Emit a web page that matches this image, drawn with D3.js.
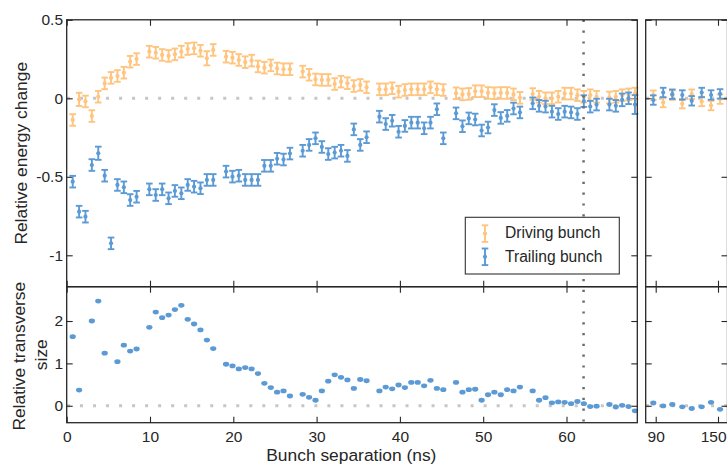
<!DOCTYPE html>
<html><head><meta charset="utf-8">
<script src="https://cdn.jsdelivr.net/npm/d3@7"></script>
<style>
body{margin:0;background:#fff}
svg{display:block}
text{font-family:"Liberation Sans",Arial,Helvetica,sans-serif;fill:#262626}
</style>
</head><body>
<svg id="chart" width="727" height="465"></svg>
<script>
// ---------- data ----------
const sepEnergy = [0.72,1.49,2.25,3.02,3.79,4.56,5.32,6.09,6.86,7.62,8.39,
  9.92,10.69,11.46,12.23,12.99,13.76,14.53,15.29,16.06,16.83,17.59,
  19.13,19.90,20.66,21.43,22.20,22.96,23.73,24.50,25.26,26.03,26.80,
  28.33,29.10,29.87,30.63,31.40,32.17,32.93,33.70,34.47,35.24,36.00,
  37.54,38.30,39.07,39.84,40.60,41.37,42.14,42.91,43.67,44.44,45.21,
  46.74,47.51,48.27,49.04,49.81,50.58,51.34,52.11,52.88,53.64,54.41,
  55.94,56.71,57.48,58.25,59.01,59.78,60.55,61.31,62.08,62.85,63.61,
  65.15,65.92,66.68,67.45,68.22];
const drivingEnergy = [-0.138,-0.007,-0.02,-0.113,0.01,0.095,0.13,0.142,0.163,0.233,0.25,
  0.297,0.29,0.276,0.27,0.28,0.297,0.314,0.318,0.303,0.255,0.308,
  0.265,0.259,0.244,0.23,0.24,0.203,0.195,0.21,0.19,0.185,0.185,
  0.17,0.15,0.12,0.117,0.117,0.091,0.106,0.096,0.078,0.085,0.07,
  0.057,0.057,0.064,0.042,0.053,0.057,0.057,0.057,0.07,0.057,0.053,
  0.032,0.025,0.028,0.045,0.045,0.034,0.032,0.034,0.034,0.025,0.003,
  0.027,0.01,0.0,0.0,0.01,0.03,0.03,0.02,0.01,0.02,0.01,
  0.005,0.01,0.02,0.025,0.03];
const trailingEnergy = [-0.531,-0.722,-0.754,-0.425,-0.35,-0.493,-0.924,-0.552,-0.567,-0.648,-0.627,
  -0.58,-0.616,-0.58,-0.637,-0.59,-0.605,-0.552,-0.563,-0.573,-0.52,-0.52,
  -0.467,-0.499,-0.493,-0.52,-0.52,-0.52,-0.43,-0.43,-0.385,-0.39,-0.352,
  -0.334,-0.297,-0.255,-0.31,-0.355,-0.346,-0.334,-0.367,-0.198,-0.297,-0.248,
  -0.117,-0.164,-0.143,-0.213,-0.176,-0.155,-0.155,-0.191,-0.155,-0.07,-0.255,
  -0.096,-0.178,-0.128,-0.135,-0.205,-0.186,-0.075,-0.125,-0.112,-0.065,-0.09,
  -0.032,-0.048,-0.053,-0.085,-0.1,-0.085,-0.09,-0.1,-0.018,-0.053,-0.04,
  -0.04,-0.048,-0.01,0.0,-0.04];
const drivingErr = [0.037,0.042,0.037,0.037,0.037,0.037,0.037,0.037,0.037,0.037,0.037,
  0.037,0.037,0.037,0.037,0.037,0.037,0.037,0.037,0.037,0.045,0.037,
  0.037,0.037,0.037,0.037,0.037,0.037,0.037,0.037,0.037,0.037,0.037,
  0.037,0.037,0.037,0.037,0.037,0.037,0.037,0.037,0.037,0.037,0.037,
  0.037,0.037,0.037,0.037,0.037,0.037,0.037,0.037,0.037,0.037,0.037,
  0.037,0.037,0.037,0.037,0.037,0.037,0.037,0.037,0.037,0.037,0.037,
  0.037,0.037,0.037,0.037,0.037,0.037,0.037,0.037,0.037,0.037,0.037,
  0.037,0.037,0.037,0.037,0.037];
const trailingErr = [0.037,0.037,0.037,0.037,0.042,0.037,0.037,0.037,0.037,0.037,0.037,
  0.037,0.037,0.037,0.037,0.037,0.037,0.037,0.037,0.037,0.037,0.037,
  0.037,0.037,0.037,0.037,0.037,0.037,0.037,0.037,0.037,0.037,0.037,
  0.037,0.037,0.037,0.037,0.037,0.037,0.037,0.037,0.037,0.037,0.037,
  0.037,0.037,0.037,0.037,0.037,0.037,0.037,0.037,0.037,0.037,0.037,
  0.037,0.037,0.037,0.037,0.037,0.037,0.037,0.037,0.037,0.037,0.037,
  0.037,0.037,0.037,0.037,0.037,0.037,0.037,0.037,0.037,0.037,0.037,
  0.037,0.037,0.04,0.037,0.06];
const sepSize = [0.72,1.49,3.02,3.79,4.56,6.09,6.86,7.62,8.39,
  9.92,10.69,11.46,12.23,12.99,13.76,14.53,15.29,16.06,16.83,17.59,
  19.13,19.90,20.66,21.43,22.20,22.96,23.73,24.50,25.26,26.03,26.80,
  28.33,29.10,29.87,30.63,31.40,32.17,32.93,33.70,34.47,35.24,36.00,
  37.54,38.30,39.07,39.84,40.60,41.37,42.14,42.91,43.67,44.44,45.21,
  46.74,47.51,48.27,49.04,49.81,50.58,51.34,52.11,52.88,53.64,54.41,
  55.94,56.71,57.48,58.25,59.01,59.78,60.55,61.31,62.08,62.85,63.61,
  65.15,65.92,66.68,67.45,68.22];
const trailingSize = [1.63,0.37,2.0,2.47,1.24,1.04,1.43,1.29,1.34,
  1.85,2.21,2.08,2.14,2.27,2.37,2.04,1.93,1.79,1.55,1.35,
  0.98,0.94,0.87,0.9,0.87,0.76,0.53,0.43,0.32,0.35,0.23,
  0.27,0.2,0.13,0.35,0.58,0.73,0.67,0.61,0.41,0.62,0.59,
  0.35,0.44,0.4,0.49,0.43,0.55,0.55,0.47,0.6,0.41,0.38,
  0.55,0.32,0.38,0.39,0.13,0.26,0.32,0.26,0.38,0.35,0.44,
  0.35,0.13,0.19,0.07,0.09,0.08,0.05,0.1,0.05,-0.02,-0.01,
  0.03,-0.03,0.01,-0.02,-0.12];
// far (long separation) panel
const sepFar = [87.7,97.2,106.0,115.6,124.7,134.3,143.3,152.0];
const drivingFar = [0.02,-0.027,0.02,-0.034,0.026,-0.02,-0.046,-0.005];
const trailingFar = [-0.011,0.037,0.026,0.021,-0.016,0.037,0.021,0.028];
const drivingFarErr = [0.03,0.03,0.03,0.03,0.03,0.03,0.03,0.03];
const trailingFarErr = [0.03,0.03,0.03,0.03,0.03,0.03,0.03,0.03];
const sizeFar = [0.065,-0.005,0.03,-0.025,-0.065,-0.025,0.08,-0.085];
// ticks / annotations
const xTicksMain = [0,10,20,30,40,50,60];
const xTicksFar = [90,150];
const yTicksEnergy = [0.5,0,-0.5,-1];
const yTicksSize = [0,1,2];
const markerSep = 62.05;
const seriesNames = ["Driving bunch","Trailing bunch"];

// ---------- layout ----------
const orange = "#ffc47e", blue = "#5b9ad4", ink = "#262626";
const W = 727;
const mainL = 66.7, mainR = 637.3, farL = 645.7, farR = 727.5;
const topT = 19.8, split = 286.7, botB = 422.7;

const svg = d3.select("#chart");
const xMain = d3.scaleLinear().domain([0, 68.5]).range([mainL, mainR]);
const xFar = d3.scaleLinear().domain([80.37, 159.15]).range([farL, farR]);
const yE = d3.scaleLinear().domain([-1.2, 0.5]).range([split, topT]);
const yS = d3.scaleLinear().domain([-0.4, 2.81]).range([botB, split]);

const fmtE = d => d === 0 ? "0" : String(d);
const fmtS = d => String(d);

function frame(x, y, xticks, yticks, yLabels, xLabels, fmt) {
  const g = svg.append("g");
  const [x0, x1] = x.range();
  const [y0, y1] = y.range(); // y0 bottom, y1 top
  // zero line
  g.append("line").attr("x1", x0).attr("x2", x1).attr("y1", y(0)).attr("y2", y(0))
    .attr("stroke", "#c6c6c6").attr("stroke-width", 3)
    .attr("stroke-dasharray", "3,10.02").attr("stroke-dashoffset", -0.3);
  const left = g.append("g").attr("transform", `translate(${x0},0)`)
    .call(d3.axisLeft(y).tickValues(yticks).tickSize(-6).tickPadding(3.7)
      .tickFormat(yLabels ? fmt : ""));
  const right = g.append("g").attr("transform", `translate(${x1},0)`)
    .call(d3.axisRight(y).tickValues(yticks).tickSize(-6).tickFormat(""));
  const bottom = g.append("g").attr("transform", `translate(0,${y0})`)
    .call(d3.axisBottom(x).tickValues(xticks).tickSize(-6).tickPadding(8)
      .tickFormat(xLabels ? d3.format("d") : ""));
  const top = g.append("g").attr("transform", `translate(0,${y1})`)
    .call(d3.axisTop(x).tickValues(xticks).tickSize(-6).tickFormat(""));
  [left, right, bottom, top].forEach(a => {
    a.select(".domain").remove();
    a.selectAll(".tick line").attr("stroke", ink).attr("stroke-width", 1.1);
    a.selectAll("text").attr("font-size", 15.5).attr("fill", ink)
      .attr("font-family", '"Liberation Sans",Arial,sans-serif');
  });
  // keep labels that would run past the window edge inside it
  if (xLabels) {
    bottom.selectAll(".tick").each(function(d) {
      const t = d3.select(this).select("text");
      const pos = x(d);
      const w = t.node().getComputedTextLength();
      if (pos + w / 2 > W - 1) t.attr("text-anchor", "end").attr("x", (W - 1) - pos);
    });
  }
  return g;
}

function spine(x, y) {
  const [x0, x1] = x.range();
  const [y0, y1] = y.range();
  svg.append("rect").attr("x", x0).attr("y", y1).attr("width", x1 - x0).attr("height", y0 - y1)
    .attr("fill", "none").attr("stroke", ink).attr("stroke-width", 1.3);
}

function errbars(g, x, y, xs, vs, es, color) {
  const cap = 3.3;
  const pts = g.append("g").selectAll("g").data(xs.map((d, i) => ({s: d, v: vs[i], e: es[i]})))
    .join("g");
  pts.append("line").attr("x1", d => x(d.s)).attr("x2", d => x(d.s))
    .attr("y1", d => y(d.v - d.e)).attr("y2", d => y(d.v + d.e))
    .attr("stroke", color).attr("stroke-width", 1.9);
  [-1, 1].forEach(sgn => {
    pts.append("line").attr("x1", d => x(d.s) - cap).attr("x2", d => x(d.s) + cap)
      .attr("y1", d => y(d.v + sgn * d.e)).attr("y2", d => y(d.v + sgn * d.e))
      .attr("stroke", color).attr("stroke-width", 1.9);
  });
  pts.append("circle").attr("cx", d => x(d.s)).attr("cy", d => y(d.v)).attr("r", 2.1)
    .attr("fill", color);
}

function dots(g, x, y, xs, vs, color) {
  g.append("g").selectAll("ellipse").data(xs.map((d, i) => ({s: d, v: vs[i]})))
    .join("ellipse").attr("cx", d => x(d.s)).attr("cy", d => y(d.v))
    .attr("rx", 3.1).attr("ry", 2.4).attr("fill", color);
}

// panels
const gTM = frame(xMain, yE, xTicksMain, yTicksEnergy, true, false, fmtE);
errbars(gTM, xMain, yE, sepEnergy, drivingEnergy, drivingErr, orange);
errbars(gTM, xMain, yE, sepEnergy, trailingEnergy, trailingErr, blue);

const gBM = frame(xMain, yS, xTicksMain, yTicksSize, true, true, fmtS);
dots(gBM, xMain, yS, sepSize, trailingSize, blue);

const gTF = frame(xFar, yE, xTicksFar, yTicksEnergy, false, false, fmtE);
errbars(gTF, xFar, yE, sepFar, drivingFar, drivingFarErr, orange);
errbars(gTF, xFar, yE, sepFar, trailingFar, trailingFarErr, blue);

const gBF = frame(xFar, yS, xTicksFar, yTicksSize, false, true, fmtS);
dots(gBF, xFar, yS, sepFar, sizeFar, blue);

// vertical marker line
svg.append("line").attr("x1", xMain(markerSep)).attr("x2", xMain(markerSep))
  .attr("y1", topT).attr("y2", botB)
  .attr("stroke", "#6a6a6a").attr("stroke-width", 2.5).attr("stroke-dasharray", "2.2,8.6");

spine(xMain, yE); spine(xMain, yS); spine(xFar, yE); spine(xFar, yS);

// legend
const lg = svg.append("g");
lg.append("rect").attr("x", 465.3).attr("y", 217.3).attr("width", 154).attr("height", 56.7)
  .attr("fill", "#fff").attr("stroke", "#333").attr("stroke-width", 1.1);
[[orange, 233.6, 238.4], [blue, 256.8, 261.6]].forEach(([c, cy, by], i) => {
  const mx = 485, h = 8.3;
  lg.append("line").attr("x1", mx).attr("x2", mx).attr("y1", cy - h).attr("y2", cy + h)
    .attr("stroke", c).attr("stroke-width", 1.9);
  [-h, h].forEach(o => lg.append("line").attr("x1", mx - 3.3).attr("x2", mx + 3.3)
    .attr("y1", cy + o).attr("y2", cy + o).attr("stroke", c).attr("stroke-width", 1.9));
  lg.append("circle").attr("cx", mx).attr("cy", cy).attr("r", 2.1).attr("fill", c);
  lg.append("text").attr("x", 505).attr("y", by).attr("font-size", 15.6).text(seriesNames[i]);
});

// axis labels
svg.append("text").attr("transform", `translate(26.8,${(topT + split) / 2}) rotate(-90)`)
  .attr("text-anchor", "middle").attr("font-size", 17.4).text("Relative energy change");
svg.append("text").attr("transform", `translate(25,${(split + botB) / 2 + 1.5}) rotate(-90)`)
  .attr("text-anchor", "middle").attr("font-size", 17.4).text("Relative transverse");
svg.append("text").attr("transform", `translate(46.5,${(split + botB) / 2}) rotate(-90)`)
  .attr("text-anchor", "middle").attr("font-size", 17.4).text("size");
svg.append("text").attr("x", (266 + 436.7) / 2).attr("y", 461)
  .attr("text-anchor", "middle").attr("font-size", 17.4).text("Bunch separation (ns)");
</script>
</body></html>
